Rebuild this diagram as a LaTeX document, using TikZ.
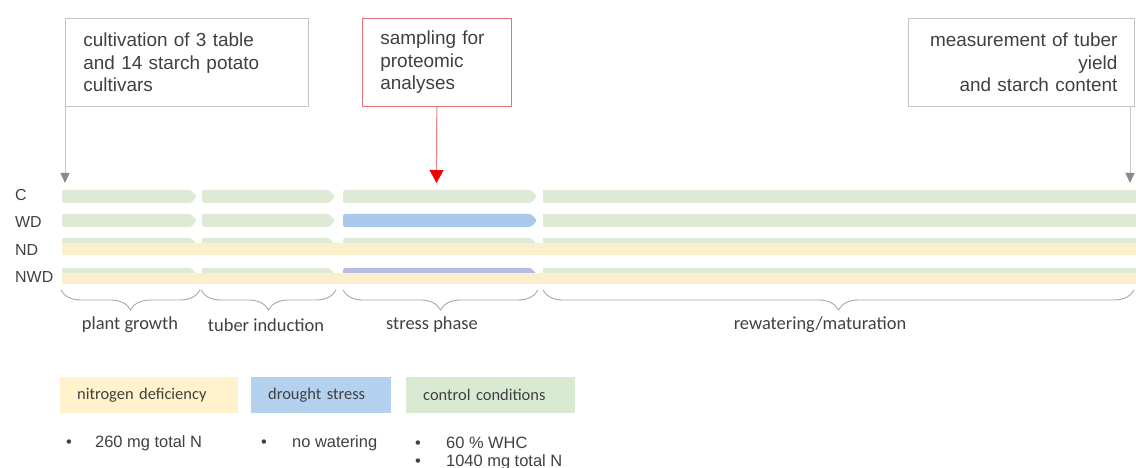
\documentclass[tikz,border=0pt]{standalone}
\usepackage{fontspec}
\setmainfont{Liberation Sans}
\newfontfamily\calib{Carlito}
\usetikzlibrary{arrows.meta,decorations.pathreplacing}
\definecolor{txt}{HTML}{404040}
\definecolor{boxgrey}{HTML}{C4C4C4}
\definecolor{boxred}{HTML}{E57373}
\definecolor{arrred}{HTML}{F08A8A}
\definecolor{headred}{HTML}{F00000}
\definecolor{arrgrey}{HTML}{C8C8C8}
\definecolor{headgrey}{HTML}{8A8A8A}
\definecolor{barG}{HTML}{DEEAD5}
\definecolor{barB}{HTML}{A9C8EC}
\definecolor{barY}{HTML}{FCF0CC}
\definecolor{barL}{HTML}{B6BBE2}
\definecolor{legY}{HTML}{FFF2CC}
\definecolor{legB}{HTML}{B5D1F0}
\definecolor{legG}{HTML}{D9EAD3}
\definecolor{bracegrey}{HTML}{A8A8A8}
\newcommand\chevbar[4]{\fill[#1,rounded corners=1.5bp] (#2,#4) -- (#3-6,#4) -- (#3,#4+6.5) -- (#3-6,#4+13) -- (#2,#4+13) -- cycle;}
\newcommand\tailbar[3]{\fill[#1] (#2,#3) rectangle (1136,#3+13);}
\begin{document}
\begin{tikzpicture}[x=1bp,y=-1bp,
  box/.style={draw=boxgrey, line width=0.8bp, text=txt, inner ysep=0pt,
    font=\fontsize{19}{22.5}\selectfont, minimum height=88bp, anchor=north west},
  greyarrow/.style={draw=arrgrey, line width=1bp, -{Triangle[width=9bp,length=10bp,color=headgrey]}},
  redarrow/.style={draw=arrred, line width=1.2bp, -{Triangle[width=14bp,length=13bp,color=headred]}},
  rowlabel/.style={text=txt, font=\fontsize{16}{18}\selectfont, anchor=west, inner sep=0pt},
  phasebrace/.style={draw=bracegrey, line width=0.9bp, decorate, decoration={brace, mirror, amplitude=20bp}},
  phaselabel/.style={text=txt, font=\calib\fontsize{18.5}{20}\selectfont, inner sep=0pt},
  legbox/.style={anchor=north west, minimum height=36bp, inner xsep=17bp, align=left, text=txt,
    font=\calib\fontsize{16.5}{18}\selectfont},
  bullet/.style={anchor=west, inner sep=0pt, text=txt, font=\fontsize{16.5}{18}\selectfont}]
\useasboundingbox (0,0) rectangle (1136,468);

% top boxes
\node[box, text width=207bp, inner xsep=18bp, align=left] (b1) at (65,18)
  {cultivation of 3 table\\and 14 starch potato\\cultivars};
\node[box, draw=boxred, text width=113bp, inner xsep=18bp, align=left] (b2) at (362,18)
  {sampling for\\proteomic\\analyses};
\node[box, text width=192bp, inner xsep=17bp, align=right] (b3) at (908,18)
  {measurement of tuber\\yield\\and starch content};

% bars
% C
\chevbar{barG}{62}{197}{190}
\chevbar{barG}{202}{335}{190}
\chevbar{barG}{343}{537}{190}
\tailbar{barG}{543}{190}
% WD
\chevbar{barG}{62}{197}{214}
\chevbar{barG}{202}{335}{214}
\chevbar{barB}{343}{537}{214}
\tailbar{barG}{543}{214}
% ND
\chevbar{barG}{62}{197}{238}
\chevbar{barG}{202}{335}{238}
\chevbar{barG}{343}{537}{238}
\tailbar{barG}{543}{238}
\fill[barY] (62,243) rectangle (1136,255);
% NWD
\chevbar{barG}{62}{197}{268}
\chevbar{barG}{202}{335}{268}
\chevbar{barL}{343}{537}{268}
\tailbar{barG}{543}{268}
\fill[barY] (62,273) rectangle (1136,284);

% row labels
\node[rowlabel] (lc) at (15,195) {C};
\node[rowlabel] (lwd) at (15,222) {WD};
\node[rowlabel] (lnd) at (15,250) {ND};
\node[rowlabel] (lnwd) at (15,277) {NWD};

% arrows
\coordinate (a1) at (65,183);
\coordinate (a2) at (436.5,183);
\coordinate (s3) at (1130,106);
\coordinate (a3) at (1130,183);
\draw[greyarrow] (b1.south west) -- (a1);
\draw[redarrow] (b2.south) -- (a2);
\draw[greyarrow] (s3) -- (a3);

% braces
\draw[phasebrace] (61,290) -- (200,290);
\draw[phasebrace] (201,290) -- (336,290);
\draw[phasebrace] (343,290) -- (538,290);
\draw[phasebrace] (543,290) -- (1134,290);
\node[phaselabel] (p1) at (130,325) {plant growth};
\node[phaselabel] (p2) at (266,325) {tuber induction};
\node[phaselabel] (p3) at (432,325) {stress phase};
\node[phaselabel] (p4) at (820,325) {rewatering/maturation};

% legend
\node[legbox, fill=legY, text width=144bp] (ly) at (60,377) {nitrogen deficiency};
\node[legbox, fill=legB, text width=106bp] (lb) at (251,377) {drought stress};
\node[legbox, fill=legG, text width=135bp] (lg) at (406,377) {control conditions};

\node[bullet] (n1) at (66,443) {\makebox[29bp][l]{•}260 mg total N};
\node[bullet] (d1) at (261,443) {\makebox[31bp][l]{•}no watering};
\node[bullet] (g1) at (415,443) {\makebox[31bp][l]{•}60 \% WHC};
\node[bullet] (g2) at (415,462) {\makebox[31bp][l]{•}1040 mg total N};
\end{tikzpicture}
\end{document}
